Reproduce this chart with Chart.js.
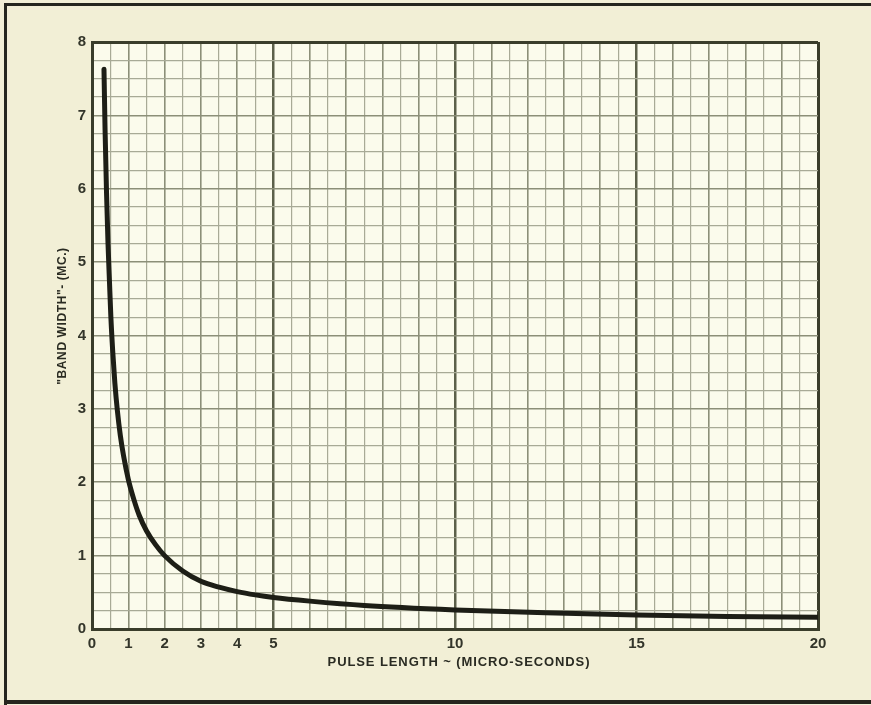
<!DOCTYPE html>
<html>
<head>
<meta charset="utf-8">
<style>
  html, body { margin: 0; padding: 0; background: #f2efd6; }
  #wrap { width: 871px; height: 705px; }
</style>
<script src="https://cdn.jsdelivr.net/npm/chart.js@4.4.1/dist/chart.umd.min.js"></script>
</head>
<body>
<div id="wrap"><canvas id="bandChart" width="871" height="705"></canvas></div>
<script>
// values
const pulseLength = [0.33, 0.36, 0.40, 0.44, 0.48, 0.52, 0.57, 0.63, 0.70, 0.78, 0.87, 1.0, 1.15, 1.3, 1.5, 1.75, 2, 2.5, 3, 3.5, 4, 4.5, 5, 6, 7.5, 10, 12.5, 15, 17.5, 20];
const bandWidth = [7.63, 6.8, 5.95, 5.27, 4.75, 4.25, 3.79, 3.35, 2.97, 2.64, 2.36, 2.04, 1.77, 1.55, 1.34, 1.15, 1.0, 0.79, 0.65, 0.57, 0.51, 0.465, 0.43, 0.38, 0.32, 0.26, 0.22, 0.19, 0.17, 0.16];

const xTickLabels = [0, 1, 2, 3, 4, 5, 10, 15, 20];
const yTickLabels = [0, 1, 2, 3, 4, 5, 6, 7, 8];

const xTitle = 'PULSE LENGTH ~ (MICRO-SECONDS)';
const yTitle = '"BAND WIDTH"- (MC.)';

const inkDark = '#3a3d2b';
const gridMid = '#8c8f78';
const gridLight = '#a8aa96';

// paper background, frame and axis titles
const paperPlugin = {
    id: 'paper',
    beforeDraw: (chart) => {
        const {ctx, width, height, chartArea: {top, bottom, left, right}} = chart;
        ctx.save();
        ctx.fillStyle = '#f2efd6';
        ctx.fillRect(0, 0, width, height);
        ctx.fillStyle = '#fbfbec';
        ctx.fillRect(left, top, right - left, bottom - top);
        // scan frame
        ctx.fillStyle = '#26261e';
        ctx.fillRect(4, 3, width - 4, 3);
        ctx.fillRect(4, 3, 3, height - 3);
        ctx.fillRect(4, height - 5, width - 4, 4);
        ctx.restore();
    },
    afterDraw: (chart) => {
        const {ctx} = chart;
        ctx.save();
        ctx.fillStyle = '#2a2b22';
        ctx.textAlign = 'center';
        ctx.textBaseline = 'middle';
        ctx.font = 'bold 13px "Liberation Sans"';
        ctx.letterSpacing = '0.9px';
        ctx.fillText(xTitle, 459, 662);
        ctx.translate(63, 316);
        ctx.rotate(-Math.PI / 2);
        ctx.font = 'bold 12px "Liberation Sans"';
        ctx.letterSpacing = '0.6px';
        ctx.fillText(yTitle, 0, 0);
        ctx.restore();
    }
};

const xGridColor = (c) => {
    const v = c.tick.value;
    if (v === 0 || v === 20) return inkDark;
    if (v % 5 === 0) return '#5c604a';
    if (Number.isInteger(v)) return gridMid;
    return gridLight;
};
const xGridWidth = (c) => {
    const v = c.tick.value;
    if (v === 0 || v === 20) return 3;
    if (v % 5 === 0) return 2.5;
    if (Number.isInteger(v)) return 1.6;
    return 1.2;
};
const yGridColor = (c) => {
    const v = c.tick.value;
    if (v === 0 || v === 8) return inkDark;
    if (Number.isInteger(v)) return gridMid;
    return gridLight;
};
const yGridWidth = (c) => {
    const v = c.tick.value;
    if (v === 0 || v === 8) return 3;
    if (Number.isInteger(v)) return 1.6;
    return 1.2;
};

const tickFont = {family: 'Liberation Sans', size: 15, weight: 'bold'};

new Chart(document.getElementById('bandChart').getContext('2d'), {
    type: 'line',
    plugins: [paperPlugin],
    data: {
        datasets: [{
            label: 'Band width',
            data: pulseLength.map((x, i) => ({x: x, y: bandWidth[i]})),
            borderColor: '#1d1e16',
            borderWidth: 5,
            borderCapStyle: 'round',
            cubicInterpolationMode: 'monotone',
            pointRadius: 0,
            fill: false
        }]
    },
    options: {
        responsive: false,
        animation: false,
        layout: {padding: {top: 42, right: 53, left: 0, bottom: 0}},
        plugins: {
            legend: {display: false},
            tooltip: {enabled: false}
        },
        scales: {
            x: {
                type: 'linear',
                min: 0,
                max: 20,
                afterFit: (scale) => { scale.height = 76; },
                border: {display: true, color: inkDark, width: 3},
                grid: {color: xGridColor, lineWidth: xGridWidth, drawTicks: false},
                ticks: {
                    stepSize: 0.5,
                    maxTicksLimit: 100,
                    autoSkip: false,
                    maxRotation: 0,
                    padding: 6,
                    color: '#33352a',
                    font: tickFont,
                    callback: (value) => xTickLabels.includes(value) ? String(value) : ''
                }
            },
            y: {
                min: 0,
                max: 8,
                afterFit: (scale) => { scale.width = 92; },
                border: {display: true, color: inkDark, width: 3},
                grid: {color: yGridColor, lineWidth: yGridWidth, drawTicks: false},
                ticks: {
                    stepSize: 0.25,
                    maxTicksLimit: 100,
                    autoSkip: false,
                    padding: 6,
                    color: '#33352a',
                    font: tickFont,
                    callback: (value) => yTickLabels.includes(value) ? String(value) : ''
                }
            }
        }
    }
});
</script>
</body>
</html>
